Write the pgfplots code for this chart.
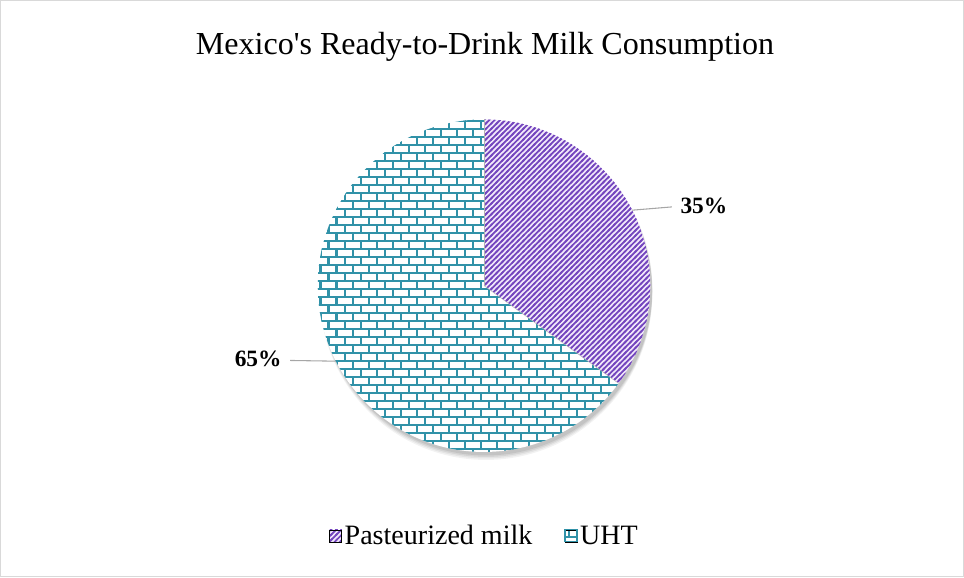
\documentclass[border=0pt]{standalone}
\usepackage{fontspec}
\setmainfont{Liberation Serif}
\usepackage{pgfplots}
\pgfplotsset{compat=1.18}
\usepackage{pgfplotstable}
\usetikzlibrary{patterns}

\pgfdeclarepatternformonly{mybricks}{\pgfqpoint{-1pt}{-1pt}}{\pgfqpoint{13pt}{13pt}}{\pgfqpoint{12pt}{12pt}}{%
 \pgfsetlinewidth{1.6pt}%
 \pgfpathmoveto{\pgfqpoint{-1pt}{0pt}}\pgfpathlineto{\pgfqpoint{13pt}{0pt}}%
 \pgfpathmoveto{\pgfqpoint{-1pt}{6pt}}\pgfpathlineto{\pgfqpoint{13pt}{6pt}}%
 \pgfpathmoveto{\pgfqpoint{0pt}{0pt}}\pgfpathlineto{\pgfqpoint{0pt}{6pt}}%
 \pgfpathmoveto{\pgfqpoint{6pt}{6pt}}\pgfpathlineto{\pgfqpoint{6pt}{12pt}}%
 \pgfusepath{stroke}}
\pgfdeclarepatternformonly{mystripes}{\pgfqpoint{-1pt}{-1pt}}{\pgfqpoint{5pt}{5pt}}{\pgfqpoint{4pt}{4pt}}{%
 \pgfsetlinewidth{1.3pt}%
 \pgfpathmoveto{\pgfqpoint{-1pt}{-1pt}}\pgfpathlineto{\pgfqpoint{5pt}{5pt}}%
 \pgfusepath{stroke}}

\definecolor{pastc}{HTML}{7446BE}
\definecolor{pastbg}{HTML}{F1E8FA}
\definecolor{uhtc}{HTML}{3192A8}
\definecolor{framec}{HTML}{D9D9D9}

\pgfplotstableread{
label value
Pasteurized 35
UHT 65
}\piedata

\begin{document}
\begin{tikzpicture}
\pgfplotstablegetelem{0}{value}\of\piedata \let\va\pgfplotsretval
\pgfplotstablegetelem{1}{value}\of\piedata \let\vb\pgfplotsretval
\pgfmathsetmacro{\fa}{\va/(\va+\vb)}
\pgfmathsetmacro{\fb}{\vb/(\va+\vb)}
\pgfmathsetmacro{\aA}{90-360*\fa}
\pgfmathsetmacro{\aB}{\aA-360*\fb}
\pgfmathsetmacro{\midA}{90-180*\fa}
\pgfmathsetmacro{\midB}{\aA-180*\fb}
\pgfmathsetmacro{\pA}{int(round(100*\fa))}
\pgfmathsetmacro{\pB}{int(round(100*\fb))}
\def\R{124.5pt}
\begin{axis}[
  scale only axis, width=721pt, height=431.5pt,
  xmin=0, xmax=964, ymin=0, ymax=578,
  axis line style={draw=framec, line width=0.8pt},
  ticks=none, clip=false,
  legend columns=2,
  legend style={at={(axis cs:485,41)}, anchor=center, draw=none, fill=none,
    font=\fontsize{21}{24}\selectfont,
    /tikz/every even column/.append style={column sep=22pt}},
  legend cell align=left,
]
% shadow
\fill[black, opacity=0.05] (axis cs:486,284) circle[radius=\R];
\fill[black, opacity=0.06] (axis cs:486,285.5) circle[radius=\R];
\fill[black, opacity=0.07] (axis cs:486,287) circle[radius=\R];
\fill[black, opacity=0.08] (axis cs:486,288.5) circle[radius=\R];
% slice A
\fill[pastbg] (axis cs:484,292) -- ++(90:\R) arc[start angle=90, end angle=\aA, radius=\R] -- cycle;
\fill[pattern=mystripes, pattern color=pastc] (axis cs:484,292) -- ++(90:\R) arc[start angle=90, end angle=\aA, radius=\R] -- cycle;
% slice B
\fill[white] (axis cs:484,292) -- ++(\aA:\R) arc[start angle=\aA, end angle=\aB, radius=\R] -- cycle;
\fill[pattern=mybricks, pattern color=uhtc] (axis cs:484,292) -- ++(\aA:\R) arc[start angle=\aA, end angle=\aB, radius=\R] -- cycle;
\draw[gray!60, line width=0.3pt] (axis cs:484,292) -- ++(90:\R);
\draw[gray!60, line width=0.3pt] (axis cs:484,292) -- ++(\aA:\R);
% leader lines and labels
\draw[gray!70, line width=0.8pt] (axis cs:484,292) ++(\midA:\R) -- (axis cs:672,371);
\node[font=\fontsize{17.5}{20}\selectfont\bfseries, anchor=west] at (axis cs:676,372) {\pA\%};
\draw[gray!70, line width=0.8pt] (axis cs:484,292) ++(\midB:\R) -- (axis cs:290,217);
\node[font=\fontsize{17.5}{20}\selectfont\bfseries, anchor=east] at (axis cs:286,219) {\pB\%};
% title
\node[font=\fontsize{24}{28}\selectfont] at (axis cs:485,532) {Mexico\textquotesingle s Ready-to-Drink Milk Consumption};
% legend
\addlegendimage{legend image code/.code={
  \fill[pastbg] (0pt,-4.5pt) rectangle (9pt,4.5pt);
  \fill[pattern=mystripes, pattern color=pastc] (0pt,-4.5pt) rectangle (9pt,4.5pt);}}
\addlegendentry{Pasteurized milk}
\addlegendimage{legend image code/.code={
  \fill[white] (0pt,-4.5pt) rectangle (9pt,4.5pt);
  \fill[pattern=mybricks, pattern color=uhtc] (0pt,-4.5pt) rectangle (9pt,4.5pt);
  \draw[uhtc, line width=0.8pt] (0pt,-4.5pt) rectangle (9pt,4.5pt);}}
\addlegendentry{UHT}
\end{axis}
\end{tikzpicture}
\end{document}
